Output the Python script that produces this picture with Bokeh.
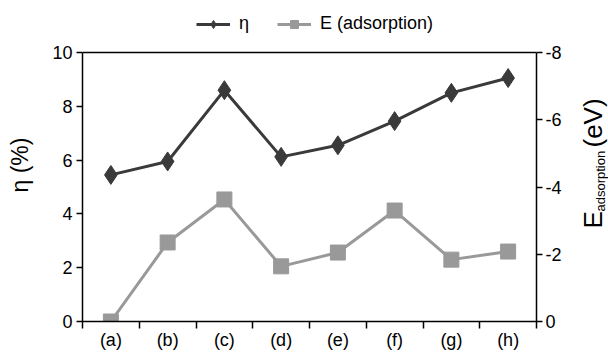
import math
from bokeh.plotting import figure
from bokeh.layouts import row
from bokeh.models import (Range1d, LinearAxis, FixedTicker, Legend, LegendItem,
                          Label, Span, ColumnDataSource, NumeralTickFormatter)
from bokeh.embed import file_html
from bokeh.resources import INLINE

categories = ["(a)", "(b)", "(c)", "(d)", "(e)", "(f)", "(g)", "(h)"]
eta = [5.45, 5.95, 8.6, 6.12, 6.55, 7.45, 8.5, 9.05]
e_ads = [0.0, -2.35, -3.63, -1.64, -2.05, -3.3, -1.84, -2.08]
eta_ticks = [0, 2, 4, 6, 8, 10]
e_ticks = [0, -2, -4, -6, -8]

FONT = "Liberation Sans"
DARK = "#3a3a3a"
GRAY = "#999999"
W_MAIN, W_SIDE, H = 564, 44, 353
TOP, BOTTOM, BOX_TOP = 8, 32, 52          # frame top, bottom border, plot box top (px)
ETA_MAX, E_MAX = eta_ticks[-1], e_ticks[-1]
stretch = (H - TOP - BOTTOM) / (H - BOX_TOP - BOTTOM)  # frame extends above the box for the legend

xpos = [i + 0.5 for i in range(len(categories))]
src = ColumnDataSource(dict(x=xpos, eta=eta, e=e_ads))

p = figure(width=W_MAIN, height=H, output_backend="svg", toolbar_location=None,
           x_range=Range1d(0, len(categories)), y_range=Range1d(0, ETA_MAX * stretch),
           min_border_left=82, min_border_right=27, min_border_top=TOP,
           min_border_bottom=BOTTOM, x_axis_type=None, y_axis_type=None)
p.extra_y_ranges = {"E": Range1d(0, E_MAX * stretch)}
p.xgrid.visible = False
p.ygrid.visible = False
p.outline_line_color = None
p.background_fill_color = "white"
p.border_fill_color = "white"

# top edge of the plot box
p.add_layout(Span(location=ETA_MAX, dimension="width", line_color="black", line_width=1.5))

# bottom axis
xax = LinearAxis(ticker=FixedTicker(ticks=xpos, minor_ticks=list(range(len(categories) + 1))))
xax.major_label_overrides = {x: c for x, c in zip(xpos, categories)}
xax.major_tick_line_color = None
xax.minor_tick_in = 0
xax.minor_tick_out = 7
xax.minor_tick_line_width = 1.5
xax.axis_line_width = 1.5
xax.major_label_standoff = 1
xax.major_label_text_font = FONT
xax.major_label_text_font_size = "18px"
xax.major_label_text_color = "black"
p.add_layout(xax, "below")

# left axis
yax = LinearAxis(ticker=FixedTicker(ticks=eta_ticks, minor_ticks=[]), bounds=(0, ETA_MAX))
yax.major_tick_in = 0
yax.major_tick_out = 6
yax.major_tick_line_width = 1.5
yax.axis_line_width = 1.5
yax.major_label_standoff = 4
yax.major_label_text_font = FONT
yax.major_label_text_font_size = "18px"
yax.major_label_text_color = "black"
yax.axis_label = "η (%)"
yax.axis_label_text_font = FONT
yax.axis_label_text_font_size = "23px"
yax.axis_label_text_font_style = "normal"
yax.axis_label_text_color = "black"
yax.axis_label_standoff = 16
p.add_layout(yax, "left")

# right axis
rax = LinearAxis(y_range_name="E", ticker=FixedTicker(ticks=e_ticks, minor_ticks=[]),
                 formatter=NumeralTickFormatter(format="0"), bounds=(E_MAX, 0))
rax.major_tick_in = 0
rax.major_tick_out = 6
rax.major_tick_line_width = 1.5
rax.axis_line_width = 1.5
rax.major_label_standoff = 3
rax.major_label_text_font = FONT
rax.major_label_text_font_size = "18px"
rax.major_label_text_color = "black"
p.add_layout(rax, "right")

# series
l2 = p.line("x", "e", source=src, y_range_name="E", line_color=GRAY, line_width=3)
s2 = p.scatter("x", "e", source=src, y_range_name="E", marker="square", size=15,
               fill_color=GRAY, line_color=GRAY)
l1 = p.line("x", "eta", source=src, line_color=DARK, line_width=3)
s1 = p.scatter("x", "eta", source=src, marker="diamond", size=19,
               fill_color=DARK, line_color=DARK)

legend = Legend(items=[LegendItem(label="η", renderers=[l1, s1]),
                       LegendItem(label="E (adsorption)", renderers=[l2, s2])],
                orientation="horizontal", location=(114, 287))
legend.label_text_font = FONT
legend.label_text_font_size = "18px"
legend.label_text_color = "black"
legend.glyph_width = 34
legend.glyph_height = 20
legend.spacing = 18
legend.padding = 4
legend.margin = 0
legend.label_standoff = 9
legend.border_line_color = None
legend.background_fill_alpha = 0
p.add_layout(legend, "center")

# side panel holding the right axis title (E with subscript); its frame is
# aligned with the main frame (rows align frames), so map data = page pixels
side = figure(width=W_SIDE, height=H, output_backend="svg", toolbar_location=None,
              x_range=Range1d(W_MAIN, W_MAIN + W_SIDE), y_range=Range1d(H - BOTTOM, TOP),
              min_border=0, x_axis_type=None, y_axis_type=None)
side.xgrid.visible = False
side.ygrid.visible = False
side.outline_line_color = None
side.background_fill_color = "white"
side.border_fill_color = "white"

lab_kw = dict(x_units="data", y_units="data", angle=math.pi / 2,
              text_font=FONT, text_color="black", text_align="left",
              text_baseline="alphabetic")
side.add_layout(Label(x=592, y=228, text="E", text_font_size="26px", **lab_kw))
side.add_layout(Label(x=600, y=211, text="adsorption", text_font_size="13px", **lab_kw))
side.add_layout(Label(x=592, y=147, text="(eV)", text_font_size="26px", **lab_kw))

layout = row(p, side, spacing=0)
open("out.html", "w").write(file_html(layout, INLINE))
